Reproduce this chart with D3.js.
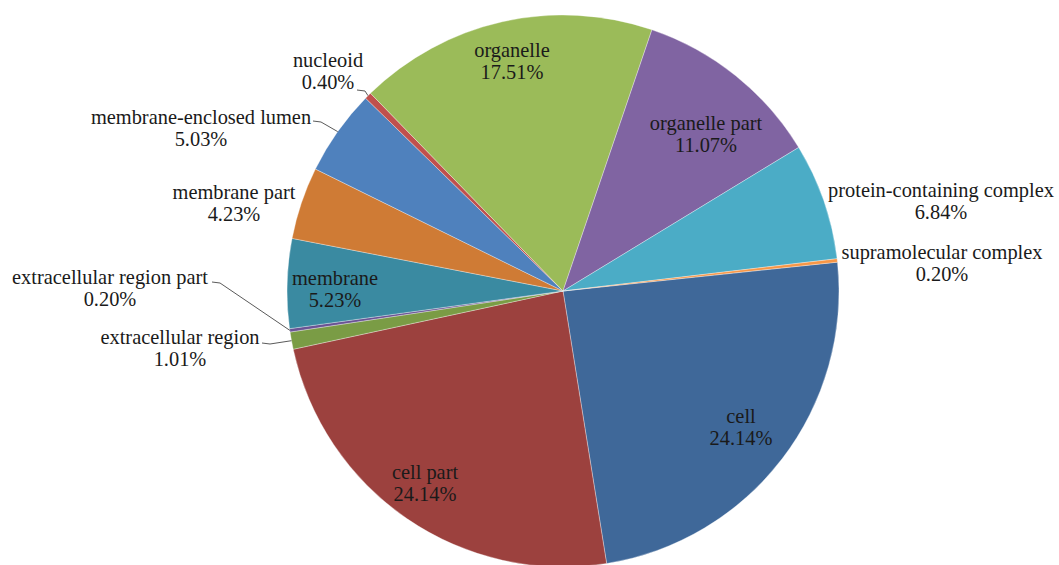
<!DOCTYPE html>
<html>
<head>
<meta charset="utf-8">
<script src="https://cdn.jsdelivr.net/npm/d3@7"></script>
<style>
  html, body { margin: 0; padding: 0; background: #ffffff; }
  svg { display: block; }
  text { font-family: "Liberation Serif", "Times New Roman", serif; font-size: 20.4px; fill: #1a1a1a; }
</style>
</head>
<body>
<svg id="chart" width="1059" height="565"></svg>
<script>
// Cellular component categories (GO) and their share of annotated genes, in %
const categories = [
  "cell", "cell part", "extracellular region", "extracellular region part",
  "membrane", "membrane part", "membrane-enclosed lumen", "nucleoid",
  "organelle", "organelle part", "protein-containing complex", "supramolecular complex"
];
const percentages = [24.14, 24.14, 1.01, 0.20, 5.23, 4.23, 5.03, 0.40, 17.51, 11.07, 6.84, 0.20];
const percentLabels = ["24.14%", "24.14%", "1.01%", "0.20%", "5.23%", "4.23%", "5.03%", "0.40%", "17.51%", "11.07%", "6.84%", "0.20%"];

const sliceColors = [
  "#3f6899", "#9c413e", "#7a9c45", "#6a5394", "#3a8aa1", "#cf7b35",
  "#4f81bd", "#c0504d", "#9bbb59", "#8064a2", "#4bacc6", "#f79646"
];

// Label placement: centre of the first text line; optional leader stub start
const labelLayout = {
  "cell":                       { x: 741, y: 416 },
  "cell part":                  { x: 425, y: 472 },
  "extracellular region":       { x: 180, y: 337, leader: [262, 343] },
  "extracellular region part":  { x: 110, y: 277, leader: [212, 282] },
  "membrane":                   { x: 335, y: 278 },
  "membrane part":              { x: 234, y: 192 },
  "membrane-enclosed lumen":    { x: 201, y: 117, leader: [313, 121] },
  "nucleoid":                   { x: 328, y: 60,  leader: [357, 90] },
  "organelle":                  { x: 512, y: 50 },
  "organelle part":             { x: 706, y: 123 },
  "protein-containing complex": { x: 941, y: 190 },
  "supramolecular complex":     { x: 942, y: 252 }
};

const cx = 563, cy = 291, radius = 276;
const lineGap = 22;

const data = categories.map((c, i) => ({ name: c, value: percentages[i], label: percentLabels[i] }));

const color = d3.scaleOrdinal().domain(categories).range(sliceColors);

const pie = d3.pie()
  .value(d => d.value)
  .sort(null)
  .startAngle(84 * Math.PI / 180)
  .endAngle((84 + 360) * Math.PI / 180);

const arc = d3.arc().innerRadius(0).outerRadius(radius);

const svg = d3.select("#chart");
const g = svg.append("g").attr("transform", `translate(${cx},${cy})`);

const arcs = pie(data);

g.selectAll("path.slice")
  .data(arcs)
  .join("path")
  .attr("class", "slice")
  .attr("d", arc)
  .attr("fill", d => color(d.data.name))
  .attr("stroke", "#ffffff")
  .attr("stroke-opacity", 0.55)
  .attr("stroke-width", 0.6);

// Leader lines: short horizontal stub, then a straight run to the slice's outer edge
const leaders = svg.append("g");
arcs.forEach(d => {
  const lay = labelLayout[d.data.name];
  if (!lay.leader) return;
  const mid = (d.startAngle + d.endAngle) / 2;
  const ex = cx + radius * Math.sin(mid);
  const ey = cy - radius * Math.cos(mid);
  const [sx, sy] = lay.leader;
  const stub = 8;
  leaders.append("path")
    .attr("d", `M${sx},${sy} L${sx + stub},${sy + 1} L${ex},${ey}`)
    .attr("fill", "none")
    .attr("stroke", "#5a5a5a")
    .attr("stroke-width", 1);
});

// Category name and percentage, two centred lines
const labels = svg.append("g");
arcs.forEach(d => {
  const lay = labelLayout[d.data.name];
  const t = labels.append("text")
    .attr("text-anchor", "middle")
    .attr("dominant-baseline", "central");
  t.append("tspan").attr("x", lay.x).attr("y", lay.y).text(d.data.name);
  t.append("tspan").attr("x", lay.x).attr("y", lay.y + lineGap).text(d.data.label);
});
</script>
</body>
</html>
